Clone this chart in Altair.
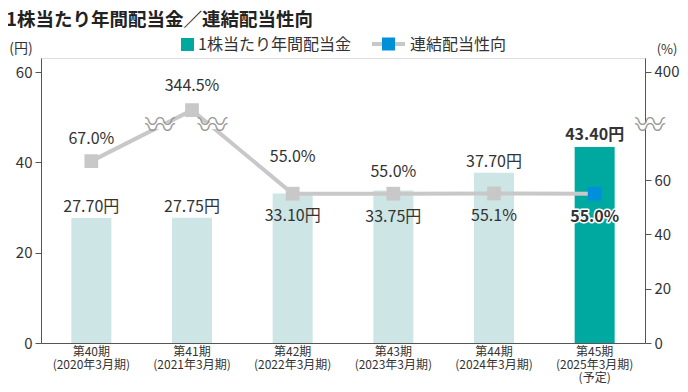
import altair as alt
import pandas as pd

# ---------------- data ----------------
periods = ["第40期", "第41期", "第42期", "第43期", "第44期", "第45期"]
fiscal_years = ["(2020年3月期)", "(2021年3月期)", "(2022年3月期)",
                "(2023年3月期)", "(2024年3月期)", "(2025年3月期)"]
notes = ["", "", "", "", "", "(予定)"]
dividends = [27.70, 27.75, 33.10, 33.75, 37.70, 43.40]
dividend_labels = ["27.70円", "27.75円", "33.10円", "33.75円", "37.70円", "43.40円"]
payout_ratios = [67.0, 344.5, 55.0, 55.0, 55.1, 55.0]
payout_labels = ["67.0%", "344.5%", "55.0%", "55.0%", "55.1%", "55.0%"]
forecast = [False, False, False, False, False, True]

# ---------------- layout (pixel offsets of value labels) ----------------
bar_label_dy = [-11, -11, 23, 26, -11, -12]
pct_label_dy = [-22, -24, -37, -22, 23, 23]

FONT = "Noto Sans CJK JP"
TXT = "#333333"
LIGHT = "#CDE6E5"
TEAL = "#00A99F"
GRAY = "#C8C8C8"
BLUE = "#0090D9"
AXIS = "#555555"

W, H = 604, 285
LEFT_MAX = 63.1
RIGHT_MAX = 105

categories = ["|".join([p, f] + ([n] if n else [])) for p, f, n in zip(periods, fiscal_years, notes)]

df = pd.DataFrame({
    "category": categories,
    "dividend": dividends,
    "divlabel": dividend_labels,
    "payout": payout_ratios,
    "pctlabel": payout_labels,
    "forecast": forecast,
    "bar_dy": bar_label_dy,
    "pct_dy": pct_label_dy,
})

base = alt.Chart(df).transform_calculate(
    disp="datum.payout > 100 ? 100 - (400 - datum.payout) * 0.256 : datum.payout"
).transform_calculate(
    divlab_y=f"datum.dividend - datum.bar_dy * {LEFT_MAX} / {H}",
    pctlab_y=f"datum.disp - datum.pct_dy * {RIGHT_MAX} / {H}",
)

x_enc = alt.X(
    "category:N", sort=None,
    scale=alt.Scale(paddingInner=0, paddingOuter=0),
    axis=alt.Axis(title=None, labelExpr="split(datum.value, '|')", ticks=False,
                  labelAngle=0, labelFontSize=12, labelLineHeight=13, labelPadding=3,
                  labelColor=TXT, labelFont=FONT, domainColor=AXIS, labelBaseline="top"),
)

left_scale = alt.Scale(domain=[0, LEFT_MAX], nice=False, zero=True)
left_axis = alt.Axis(title=None, values=[0, 20, 40, 60], grid=False, tickSize=6,
                     tickColor=AXIS, domainColor=AXIS, labelColor=TXT, labelFont=FONT,
                     labelFontSize=15, labelPadding=3)
y_left = alt.Y("dividend:Q", scale=left_scale, axis=left_axis)
y_left_lab = alt.Y("divlab_y:Q", scale=left_scale, axis=left_axis)

bars = base.mark_bar(width=40).encode(
    x=x_enc, y=y_left,
    color=alt.condition(alt.datum.forecast, alt.value(TEAL), alt.value(LIGHT)),
)

bar_txt_normal = base.transform_filter("!datum.forecast").mark_text(
    font=FONT, fontSize=16, color=TXT, baseline="middle"
).encode(x=x_enc, y=y_left_lab, text="divlabel:N")

bar_txt_bold = base.transform_filter("datum.forecast").mark_text(
    font=FONT, fontSize=16, fontWeight="bold", color=TXT, baseline="middle"
).encode(x=x_enc, y=y_left_lab, text="divlabel:N")

left_group = alt.layer(bars, bar_txt_normal, bar_txt_bold)

right_scale = alt.Scale(domain=[0, RIGHT_MAX], nice=False, zero=True)
right_axis = alt.Axis(title=None, orient="right", values=[0, 20, 40, 60, 100],
                      labelExpr="datum.value >= 100 ? '400' : datum.label",
                      grid=False, tickSize=6, tickColor=AXIS, domainColor=AXIS,
                      labelColor=TXT, labelFont=FONT, labelFontSize=15, labelPadding=3)
y_right = alt.Y("disp:Q", scale=right_scale, axis=right_axis)
y_right_lab = alt.Y("pctlab_y:Q", scale=right_scale, axis=right_axis)

line = base.mark_line(color=GRAY, strokeWidth=4).encode(x=x_enc, y=y_right)
points = base.mark_square(size=190, opacity=1).encode(
    x=x_enc, y=y_right,
    color=alt.condition(alt.datum.forecast, alt.value(BLUE), alt.value(GRAY)),
)
pct_normal = base.transform_filter("!datum.forecast").mark_text(
    font=FONT, fontSize=16, color=TXT, baseline="middle"
).encode(x=x_enc, y=y_right_lab, text="pctlabel:N")
pct_halo = base.transform_filter("datum.forecast").mark_text(
    font=FONT, fontSize=16, fontWeight="bold", color="white", stroke="white",
    strokeWidth=3, strokeJoin="round", baseline="middle"
).encode(x=x_enc, y=y_right_lab, text="pctlabel:N")
pct_bold = base.transform_filter("datum.forecast").mark_text(
    font=FONT, fontSize=16, fontWeight="bold", color=TXT, baseline="middle"
).encode(x=x_enc, y=y_right_lab, text="pctlabel:N")

right_group = alt.layer(line, points, pct_normal, pct_halo, pct_bold)

# ---------------- decorations (title, legend, axis units, breaks) ----------------
one = alt.Chart(pd.DataFrame({"k": [0]}))

title = one.mark_text(text="1株当たり年間配当金／連結配当性向", font=FONT, fontSize=18.5,
                      fontWeight="bold", color="#222222", align="left", baseline="middle"
                      ).encode(x=alt.value(-35), y=alt.value(-38))
unit_l = one.mark_text(text="(円)", font=FONT, fontSize=14, color=TXT, align="center",
                       baseline="middle").encode(x=alt.value(-20), y=alt.value(-9))
unit_r = one.mark_text(text="(%)", font=FONT, fontSize=13, color=TXT, align="center",
                       baseline="middle").encode(x=alt.value(626), y=alt.value(-8))

leg_sq = one.mark_square(size=169, color=TEAL, opacity=1).encode(x=alt.value(146.5), y=alt.value(-13.5))
leg_t1 = one.mark_text(text="1株当たり年間配当金", font=FONT, fontSize=16, color=TXT,
                       align="left", baseline="middle").encode(x=alt.value(157), y=alt.value(-13.5))
leg_ln = one.mark_rule(color=GRAY, strokeWidth=4).encode(
    x=alt.value(331), x2=alt.value(364), y=alt.value(-14))
leg_pt = one.mark_square(size=169, color=BLUE, opacity=1).encode(x=alt.value(347.5), y=alt.value(-14))
leg_t2 = one.mark_text(text="連結配当性向", font=FONT, fontSize=16, color=TXT,
                       align="left", baseline="middle").encode(x=alt.value(369), y=alt.value(-13.5))

def brk(cx, cy):
    cover = one.mark_rect(color="white").encode(
        x=alt.value(cx - 17), x2=alt.value(cx + 17), y=alt.value(cy - 3), y2=alt.value(cy + 3))
    w1 = one.mark_text(text="〰", font=FONT, fontSize=30, fontWeight=300, color="#999999",
                       align="center", baseline="middle").encode(x=alt.value(cx), y=alt.value(cy - 3))
    w2 = one.mark_text(text="〰", font=FONT, fontSize=30, fontWeight=300, color="#999999",
                       align="center", baseline="middle").encode(x=alt.value(cx), y=alt.value(cy + 3))
    return [cover, w1, w2]

decor = alt.layer(title, unit_l, unit_r, leg_sq, leg_t1, leg_ln, leg_pt, leg_t2,
                  *brk(119, 68), *brk(171.5, 68), *brk(609, 68))

chart = alt.layer(left_group, right_group, decor).resolve_scale(y="independent").properties(
    width=W, height=H,
    padding={"left": 33, "top": 50, "right": 35, "bottom": 41},
    autosize=alt.AutoSizeParams(type="none"),
).configure_view(stroke=None).configure(background="white")

chart.save("out.html", embed_options={"renderer": "svg", "actions": False})
